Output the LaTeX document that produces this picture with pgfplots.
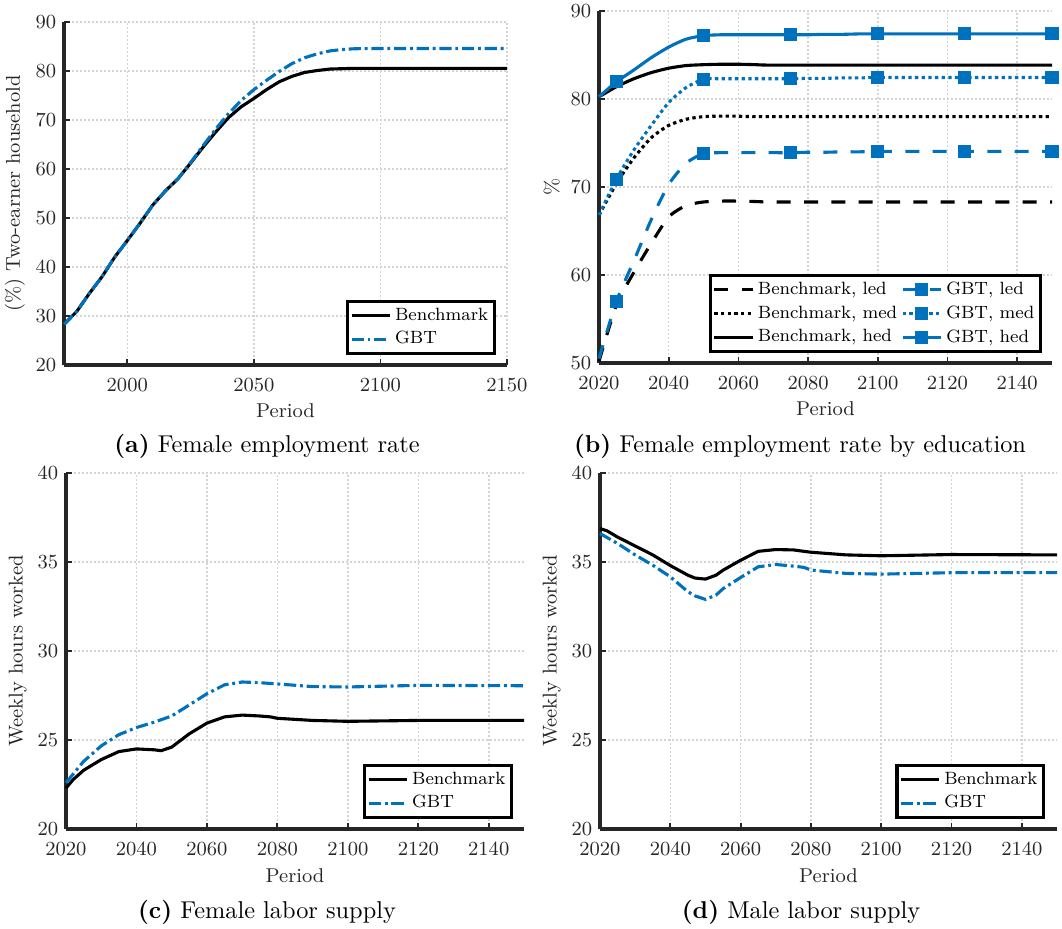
\documentclass[border=0pt]{standalone}
\usepackage{pgfplots}
\pgfplotsset{compat=1.18}
\definecolor{axcol}{RGB}{38,38,38}
\definecolor{mblue}{RGB}{0,114,189}
\begin{document}
\begin{tikzpicture}
\useasboundingbox (0,0) rectangle (477.9pt,-417.6pt);
\pgfplotsset{
  mat/.style={
    scale only axis, clip=false,
    axis lines=left,
    axis line style={-, line width=1.5pt, color=axcol},
    every tick/.style={color=axcol, line width=0.8pt},
    major tick length=2.5pt,
    tick align=inside,
    grid=major,
    major grid style={color=black!17, line width=0.7pt, dash pattern=on 0.7pt off 1.1pt},
    tick label style={font=\fontsize{9}{10.5}\selectfont, color=axcol},
    xticklabel style={/pgf/number format/1000 sep={}, yshift=-2.4pt},
    label style={font=\fontsize{9}{10.5}\selectfont, color=axcol},
    xlabel style={yshift=1pt},
    ylabel style={yshift=-2pt},
    legend style={font=\fontsize{8}{9.5}\selectfont, draw=black, line width=1.4pt, fill=white, inner sep=1pt, nodes={inner sep=1.8pt}},
    legend cell align=left,
    xlabel={Period},
  },
  bench/.style={black, solid, line width=1.4pt},
  gbt/.style={mblue, line width=1.4pt, dash pattern=on 5.5pt off 1.7pt on 1.3pt off 1.7pt},
  gmark/.style={mark=square*, mark size=2.25pt, mark options={solid, fill=mblue, draw=mblue}, mark indices={2,7,12,17,22,27}},
}
% (a)
\begin{axis}[mat, at={(28.8pt,-164.25pt)}, anchor=south west, width=199.35pt, height=154.35pt,
  xmin=1975, xmax=2150, ymin=20, ymax=90, xtick={2000,2050,2100,2150}, ytick={20,30,...,90},
  ylabel={(\%) Two-earner household},
  legend style={at={(0.975,0.029)}, anchor=south east}]
\addplot[bench, no marks] table {
1975 28.3
1980 30.9
1985 34.6
1990 38.0
1995 42.0
2000 45.4
2005 48.9
2010 52.6
2015 55.5
2020 58.0
2025 61.2
2030 64.5
2035 67.6
2040 70.5
2045 72.7
2050 74.4
2055 76.2
2060 77.8
2065 78.9
2070 79.7
2075 80.1
2080 80.4
2090 80.55
2100 80.55
2150 80.55
};
\addlegendentry{Benchmark}
\addplot[gbt, no marks] table {
1975 28.3
1980 30.9
1985 34.6
1990 38.0
1995 42.0
2000 45.4
2005 48.9
2010 52.6
2015 55.5
2020 58.0
2025 61.3
2030 64.8
2035 68.2
2040 71.3
2045 74.0
2050 76.2
2055 78.1
2060 79.9
2065 81.5
2070 82.7
2075 83.5
2080 84.1
2085 84.4
2090 84.55
2100 84.6
2150 84.6
};
\addlegendentry{GBT}
\end{axis}
% (b)
\begin{axis}[mat, at={(269.55pt,-163.35pt)}, anchor=south west, width=203.85pt, height=158.4pt,
  xmin=2020, xmax=2150, ymin=50, ymax=90, xtick={2020,2040,...,2140}, ytick={50,60,...,90},
  ylabel={\%}, legend columns=2,
  legend style={at={(0.978,0.028)}, anchor=south east,
    /tikz/every even column/.append style={column sep=0pt}}]
\addplot[bench, dash pattern=on 6.3pt off 6pt, smooth, tension=0.4, no marks] table {
2020 50.2
2025 56.6
2030 60.3
2035 63.6
2040 66.6
2045 67.9
2050 68.3
2055 68.4
2060 68.4
2065 68.35
2070 68.3
2100 68.3
2150 68.3
};
\addlegendentry{Benchmark, led}
\addplot[mblue, line width=1.4pt, dash pattern=on 6.3pt off 6pt, smooth, tension=0.4, gmark] table {
2020 50.5
2025 57.0
2030 61.6
2035 66.3
2040 70.3
2045 72.7
2050 73.8
2055 73.9
2060 73.9
2065 73.9
2070 73.9
2075 73.9
2080 73.95
2085 73.95
2090 74.0
2095 74.0
2100 74.05
2105 74.05
2110 74.05
2115 74.05
2120 74.05
2125 74.05
2130 74.05
2135 74.05
2140 74.05
2145 74.05
2150 74.05
};
\addlegendentry{GBT, led}
\addplot[bench, dash pattern=on 1.5pt off 1.5pt, smooth, tension=0.4, no marks] table {
2020 66.8
2025 70.4
2030 73.3
2035 75.6
2040 77.0
2045 77.7
2050 78.0
2055 78.05
2060 78.05
2065 78.0
2100 78.0
2150 78.0
};
\addlegendentry{Benchmark, med}
\addplot[mblue, line width=1.4pt, dash pattern=on 1.5pt off 1.5pt, smooth, tension=0.4, gmark] table {
2020 66.8
2025 70.9
2030 74.2
2035 77.0
2040 79.6
2045 81.3
2050 82.25
2055 82.3
2060 82.3
2065 82.3
2070 82.3
2075 82.3
2080 82.35
2085 82.35
2090 82.4
2095 82.4
2100 82.45
2105 82.45
2110 82.45
2115 82.45
2120 82.45
2125 82.45
2130 82.45
2135 82.45
2140 82.45
2145 82.45
2150 82.45
};
\addlegendentry{GBT, med}
\addplot[bench, smooth, tension=0.4, no marks] table {
2020 80.25
2025 81.4
2030 82.3
2035 83.0
2040 83.5
2045 83.8
2050 83.9
2055 83.95
2060 83.95
2065 83.9
2070 83.85
2100 83.85
2150 83.85
};
\addlegendentry{Benchmark, hed}
\addplot[mblue, line width=1.4pt, solid, smooth, tension=0.4, gmark] table {
2020 80.25
2025 81.95
2030 83.3
2035 84.7
2040 85.9
2045 86.8
2050 87.2
2055 87.3
2060 87.3
2065 87.3
2070 87.3
2075 87.3
2080 87.3
2085 87.35
2090 87.35
2095 87.4
2100 87.4
2105 87.4
2110 87.4
2115 87.4
2120 87.4
2125 87.4
2130 87.4
2135 87.4
2140 87.4
2145 87.4
2150 87.4
};
\addlegendentry{GBT, hed}
\end{axis}
% (c)
\begin{axis}[mat, at={(29.7pt,-373.05pt)}, anchor=south west, width=206.1pt, height=160.2pt,
  xmin=2020, xmax=2150, ymin=20, ymax=40, xtick={2020,2040,...,2140}, ytick={20,25,...,40},
  ylabel={Weekly hours worked},
  legend style={at={(0.976,0.028)}, anchor=south east}]
\addplot[bench, no marks] table {
2020 22.3
2022 22.77
2025 23.3
2030 23.9
2035 24.35
2040 24.5
2045 24.45
2047 24.4
2050 24.6
2055 25.35
2060 25.95
2065 26.3
2070 26.4
2075 26.35
2078 26.3
2080 26.22
2090 26.1
2100 26.05
2120 26.1
2150 26.1
};
\addlegendentry{Benchmark}
\addplot[gbt, no marks] table {
2020 22.6
2025 23.8
2030 24.67
2035 25.3
2040 25.7
2045 26.0
2050 26.35
2055 26.97
2060 27.6
2065 28.1
2070 28.26
2075 28.22
2080 28.15
2090 28.0
2100 27.98
2120 28.07
2150 28.05
};
\addlegendentry{GBT}
\end{axis}
% (d)
\begin{axis}[mat, at={(270pt,-373.05pt)}, anchor=south west, width=205.65pt, height=160.2pt,
  xmin=2020, xmax=2150, ymin=20, ymax=40, xtick={2020,2040,...,2140}, ytick={20,25,...,40},
  ylabel={Weekly hours worked},
  legend style={at={(0.974,0.028)}, anchor=south east}]
\addplot[bench, no marks] table {
2020 36.88
2022 36.75
2025 36.4
2030 35.9
2035 35.4
2040 34.8
2045 34.26
2047 34.1
2050 34.04
2053 34.26
2055 34.54
2060 35.1
2065 35.6
2070 35.7
2075 35.68
2078 35.6
2080 35.55
2090 35.4
2100 35.35
2120 35.42
2150 35.4
};
\addlegendentry{Benchmark}
\addplot[gbt, no marks] table {
2020 36.6
2025 36.04
2030 35.4
2035 34.82
2040 34.17
2045 33.33
2047 33.1
2050 32.9
2053 33.14
2055 33.5
2060 34.13
2065 34.73
2070 34.86
2075 34.77
2078 34.7
2080 34.55
2090 34.36
2100 34.32
2120 34.4
2150 34.4
};
\addlegendentry{GBT}
\end{axis}
\node[font=\fontsize{10.95}{13}\selectfont] at (120.15pt,-200.7pt) {\textbf{(a)} Female employment rate};
\node[font=\fontsize{10.95}{13}\selectfont] at (360pt,-200.7pt) {\textbf{(b)} Female employment rate by education};
\node[font=\fontsize{10.95}{13}\selectfont] at (120.15pt,-410.4pt) {\textbf{(c)} Female labor supply};
\node[font=\fontsize{10.95}{13}\selectfont] at (360.45pt,-410.4pt) {\textbf{(d)} Male labor supply};
\end{tikzpicture}
\end{document}
